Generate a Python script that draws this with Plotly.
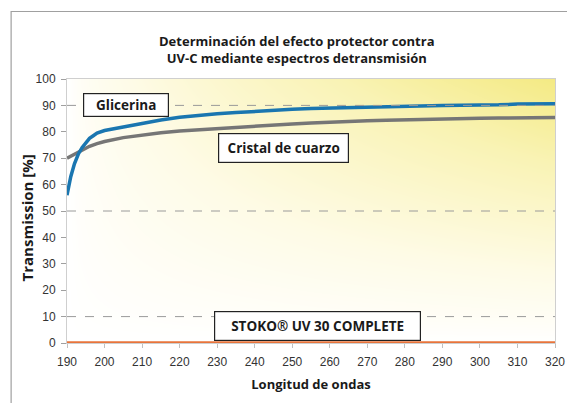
import numpy as np
import plotly.graph_objects as go

# ---- data ----
glic_x = [190, 191, 192, 193, 194, 195, 196, 197, 198, 200, 203, 205, 210, 215, 220, 225, 230,
          235, 240, 245, 250, 255, 260, 265, 270, 275, 280, 285, 290, 295, 300, 305, 310, 315, 320]
glic_y = [56, 63, 68, 71.5, 74, 76, 77.5, 78.5, 79.5, 80.5, 81.3, 82, 83, 84.5, 85.5, 86.3, 86.8,
          87.3, 87.8, 88.2, 88.5, 88.8, 89, 89.3, 89.5, 89.6, 89.8, 89.9, 90, 90.1, 90.1, 90.2, 90.5, 90.6, 90.6]

cuarzo_x = [190, 192, 194, 196, 198, 200, 205, 210, 215, 220, 225, 230, 235, 240, 245, 250, 255,
            260, 265, 270, 275, 280, 285, 290, 295, 300, 305, 310, 315, 320]
cuarzo_y = [70, 71.5, 73, 74.5, 75.5, 76.3, 77.8, 78.8, 79.6, 80.3, 80.8, 81.3, 81.8, 82.2, 82.6,
            83, 83.3, 83.7, 84, 84.2, 84.4, 84.6, 84.8, 84.9, 85, 85.1, 85.2, 85.3, 85.4, 85.4]

stoko_x = [190, 320]
stoko_y = [0, 0]

x_ticks = list(range(190, 321, 10))
y_ticks = list(range(0, 101, 10))
grid_levels = [10, 50, 90]

title_text = "Determinación del efecto protector contra<br>UV-C mediante espectros detransmisión"
x_title = "Longitud de ondas"
y_title = "Transmission [%]"
labels = [("Glicerina", 205.7, 90.0, 82, 20),
          ("Cristal de cuarzo", 247.6, 73.8, 127, 26),
          ("STOKO® UV 30 COMPLETE", 256.7, 6.4, 203, 26)]

# ---- background gradient (decorative) ----
gx = np.linspace(190, 320, 40)
gy = np.linspace(0, 100, 30)
xn = (gx - 190) / 130
yn = gy / 100
gz = np.outer(yn ** 0.9, xn ** 0.6)

bold = "Open Sans"
dark = "#1a1a1a"

fig = go.Figure()
fig.add_trace(go.Heatmap(x=gx, y=gy, z=gz, zsmooth="best", showscale=False, hoverinfo="skip",
                         colorscale=[[0, "#ffffff"], [0.3, "#fefbe6"], [0.7, "#f9f3b5"], [1, "#f4ea84"]]))
fig.add_trace(go.Scatter(x=cuarzo_x, y=cuarzo_y, mode="lines", name="Cristal de cuarzo",
                         line=dict(color="#767676", width=3.5)))
fig.add_trace(go.Scatter(x=glic_x, y=glic_y, mode="lines", name="Glicerina",
                         line=dict(color="#1a76b0", width=3.5)))
fig.add_trace(go.Scatter(x=stoko_x, y=stoko_y, mode="lines", name="STOKO® UV 30 COMPLETE",
                         line=dict(color="#e8743b", width=3.5), cliponaxis=False))

for g in grid_levels:
    fig.add_shape(type="line", xref="x", yref="y", x0=190, x1=320, y0=g, y1=g,
                  line=dict(color="#9a9a9a", width=1, dash="dash"), layer="above")

# outer frame
fig.add_shape(type="rect", xref="paper", yref="paper", x0=-0.1145, x1=1.2, y0=-0.4, y1=1.2557,
              line=dict(color="#a0a0a0", width=1.2), fillcolor="rgba(0,0,0,0)")

for text, x, y, w, h in labels:
    fig.add_annotation(x=x, y=y, xref="x", yref="y", text="<b>" + text + "</b>", showarrow=False,
                       font=dict(family=bold, size=13.5, color=dark), bgcolor="#ffffff",
                       bordercolor="#222222", borderwidth=1.2, borderpad=1, width=w, height=h)

fig.add_annotation(x=0.472, y=1.11, xref="paper", yref="paper", xanchor="center", yanchor="middle",
                   text="<b>" + title_text + "</b>", showarrow=False,
                   font=dict(family=bold, size=13, color=dark))

fig.add_annotation(x=-0.0823, y=0.475, xref="paper", yref="paper", xanchor="center", yanchor="middle",
                   text="<b>" + y_title + "</b>", textangle=-90, showarrow=False,
                   font=dict(family=bold, size=15, color=dark))

fig.update_layout(
    width=567, height=395,
    margin=dict(l=59, r=10, t=71, b=60),
    paper_bgcolor="#ffffff", plot_bgcolor="#ffffff",
    showlegend=False,
    xaxis=dict(range=[190, 320], tickvals=x_ticks, showgrid=False, zeroline=False,
               ticks="outside", ticklen=4, tickcolor="#c0c0c0", ticklabelstandoff=4,
               ticklabeloverflow="allow",
               showline=True, linecolor="#cfcfcf", mirror=True,
               tickfont=dict(family="Liberation Sans", size=12, color="#333333"),
               title=dict(text="<b>" + x_title + "</b>", standoff=11,
                          font=dict(family=bold, size=13, color=dark))),
    yaxis=dict(range=[0, 100], tickvals=y_ticks, showgrid=False, zeroline=False,
               ticks="outside", ticklen=5, tickcolor="#a0a0a0", ticklabelstandoff=3,
               showline=True, linecolor="#cfcfcf", mirror=True,
               tickfont=dict(family="Liberation Sans", size=12, color="#333333")),
)

fig.write_html("out.html")
